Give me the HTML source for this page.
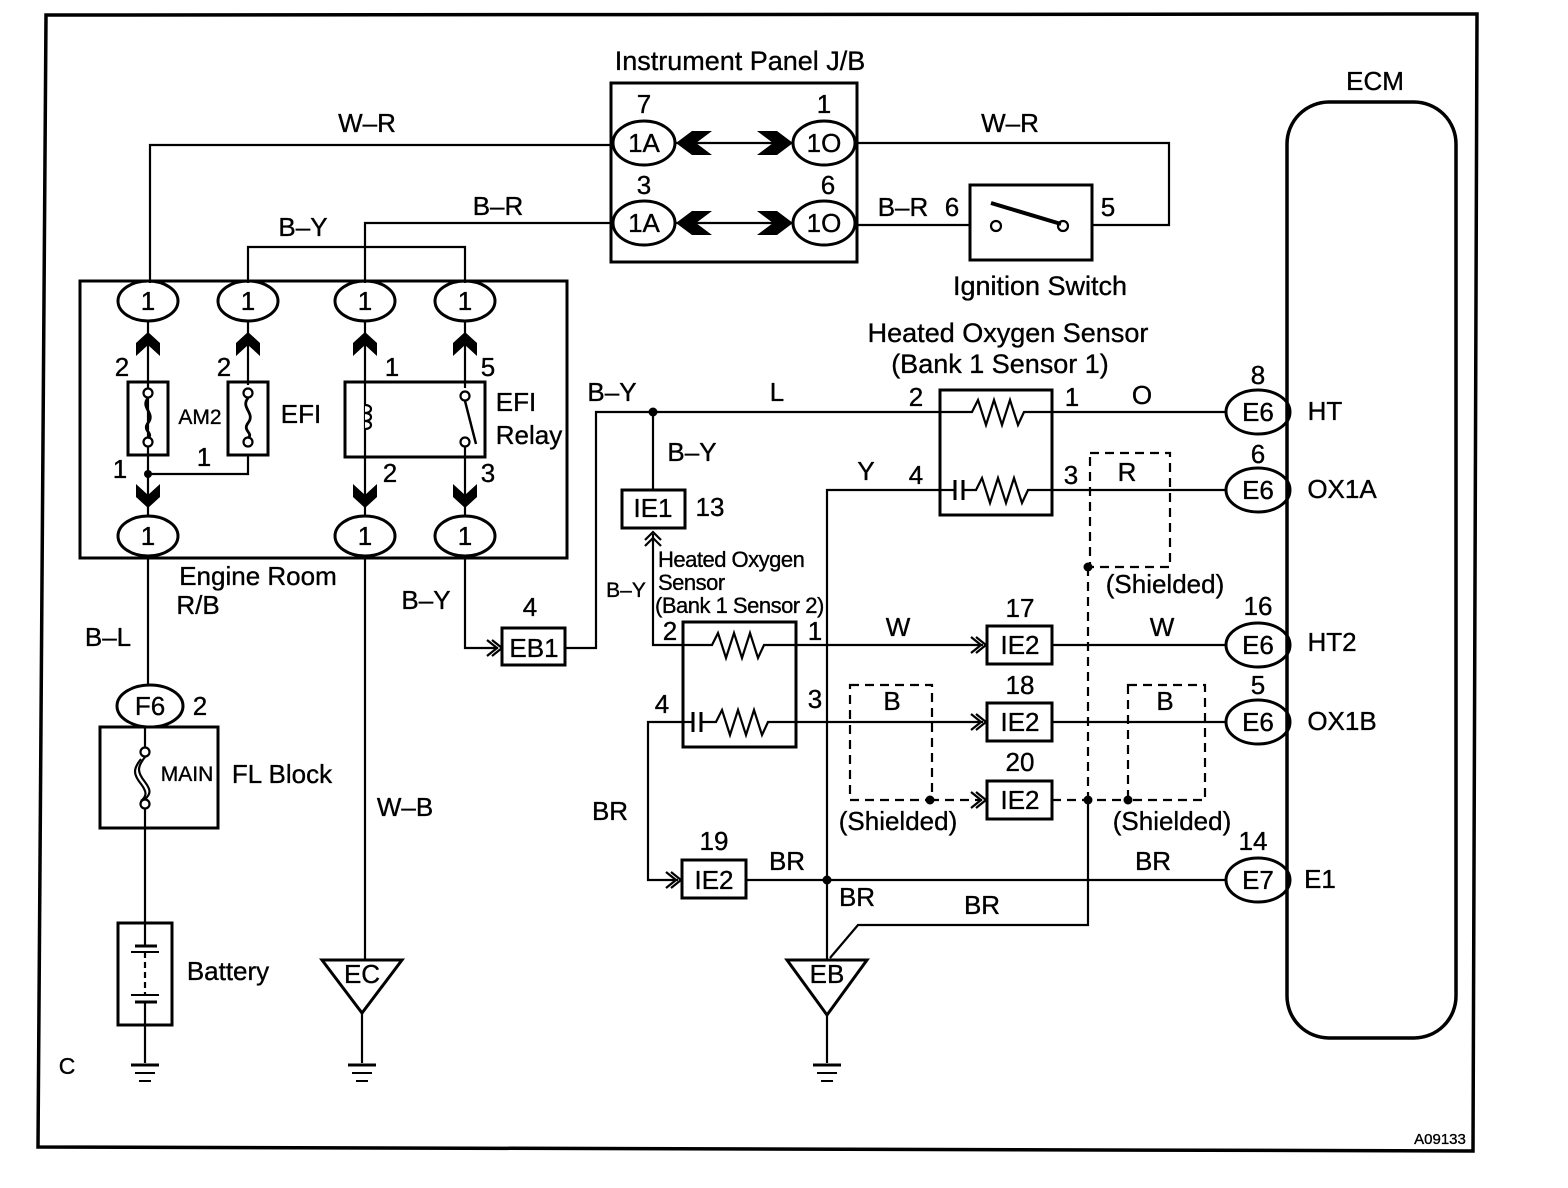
<!DOCTYPE html>
<html><head><meta charset="utf-8"><style>
html,body{margin:0;padding:0;background:#fff;}
svg{display:block;}
text{font-family:"Liberation Sans",Arial,sans-serif;fill:#000;stroke:#000;stroke-width:0.35;}
</style></head><body>
<svg width="1568" height="1188" viewBox="0 0 1568 1188" xmlns="http://www.w3.org/2000/svg">
<g fill="none" stroke="#000" stroke-width="2.2">
<polygon points="46,15 1477,14 1473,1151 38,1147" stroke-width="3.5"/>
<rect x="1287" y="102" width="169" height="936" rx="42" stroke-width="3.5"/>
<rect x="611" y="83" width="246" height="179" stroke-width="3"/>
<ellipse cx="644" cy="143" rx="31" ry="22" stroke-width="3"/>
<ellipse cx="824" cy="143" rx="31" ry="22" stroke-width="3"/>
<ellipse cx="644" cy="223" rx="31" ry="22" stroke-width="3"/>
<ellipse cx="824" cy="223" rx="31" ry="22" stroke-width="3"/>
<line x1="676" y1="143" x2="793" y2="143"/>
<line x1="676" y1="223" x2="793" y2="223"/>
<polyline points="150,283 150,145 613,145"/>
<polyline points="856,143 1169,143 1169,225 1092,225"/>
<polyline points="365,283 365,223 613,223"/>
<line x1="856" y1="225" x2="970" y2="225"/>
<rect x="970" y="185" width="122" height="75" stroke-width="3"/>
<circle cx="996" cy="226" r="5"/>
<circle cx="1063" cy="226" r="5"/>
<line x1="991" y1="203" x2="1061" y2="224" stroke-width="4"/>
<polyline points="248,283 248,247 465,247 465,283"/>
<rect x="80" y="281" width="487" height="277" stroke-width="3"/>
<ellipse cx="148" cy="301" rx="30" ry="20" stroke-width="3"/>
<ellipse cx="248" cy="301" rx="30" ry="20" stroke-width="3"/>
<ellipse cx="365" cy="301" rx="30" ry="20" stroke-width="3"/>
<ellipse cx="465" cy="301" rx="30" ry="20" stroke-width="3"/>
<ellipse cx="148" cy="536" rx="30" ry="20" stroke-width="3"/>
<ellipse cx="365" cy="536" rx="30" ry="20" stroke-width="3"/>
<ellipse cx="465" cy="536" rx="30" ry="20" stroke-width="3"/>
<line x1="148" y1="321" x2="148" y2="516"/>
<line x1="248" y1="321" x2="248" y2="385"/>
<line x1="365" y1="321" x2="365" y2="516"/>
<line x1="465" y1="321" x2="465" y2="388"/>
<line x1="465" y1="440" x2="465" y2="516"/>
<polyline points="148,474 248,474 248,455"/>
<rect x="128" y="382" width="40" height="73" stroke-width="3"/>
<rect x="228" y="382" width="40" height="73" stroke-width="3"/>
<rect x="345" y="382" width="140" height="75" stroke-width="3"/>
<circle cx="148" cy="393" r="4.5" fill="#fff"/><circle cx="148" cy="442" r="4.5" fill="#fff"/>
<circle cx="248" cy="393" r="4.5" fill="#fff"/><circle cx="248" cy="442" r="4.5" fill="#fff"/>
<path d="M148,398 c-8,10 8,15 0,25 c-6,8 6,10 0,15" stroke-width="2.8"/>
<path d="M248,398 c-8,10 8,15 0,25 c-6,8 6,10 0,15" stroke-width="2.8"/>
<path d="M365,405 c8,0 8,8 0,8 c8,0 8,8 0,8 c8,0 8,8 0,8" fill="#fff"/>
<circle cx="465" cy="396" r="4.5" fill="#fff"/><circle cx="465" cy="442" r="4.5" fill="#fff"/>
<line x1="465" y1="401" x2="476" y2="444" stroke-width="2.5"/>
<line x1="148" y1="556" x2="148" y2="685"/>
<ellipse cx="150" cy="706" rx="33" ry="21" stroke-width="3"/>
<rect x="100" y="727" width="118" height="101" stroke-width="3"/>
<line x1="145" y1="727" x2="145" y2="748"/>
<circle cx="145" cy="752" r="4.5"/><circle cx="145" cy="804" r="4.5"/>
<path d="M145,757 c-8,10 -8,15 0,25 c6,8 6,12 0,17"/>
<path d="M141,759 c-8,10 -8,15 0,25 c6,8 6,12 0,17"/>
<line x1="145" y1="809" x2="145" y2="923"/>
<rect x="118" y="923" width="54" height="102" stroke-width="3"/>
<line x1="145" y1="923" x2="145" y2="946"/>
<line x1="145" y1="1002" x2="145" y2="1063"/>
<line x1="145" y1="952" x2="145" y2="995" stroke-dasharray="6,4"/>
<line x1="365" y1="556" x2="365" y2="960"/>
<polygon points="322,960 402,960 362,1013" stroke-width="3"/>
<line x1="362" y1="1013" x2="362" y2="1063"/>
<line x1="827" y1="1015" x2="827" y2="1063"/>
<polyline points="465,556 465,648 498,648"/>
<polyline points="487,640 497,648 487,656"/>
<polyline points="492,640 502,648 492,656"/>
<rect x="502" y="628" width="63" height="37" stroke-width="3"/>
<polyline points="565,648 596,648 596,412 940,412"/>
<line x1="653" y1="412" x2="653" y2="490"/>
<rect x="622" y="490" width="63" height="38" stroke-width="3"/>
<polyline points="645,540 653,532 661,540"/>
<polyline points="645,546 653,538 661,546"/>
<polyline points="653,534 653,645 683,645"/>
<rect x="940" y="390" width="112" height="125" stroke-width="3"/>
<polyline points="940,412 972,412 978,400 986,425 994,400 1002,425 1010,400 1018,425 1024,412 1052,412"/>
<polyline points="940,490 955,490"/><line x1="955" y1="480" x2="955" y2="500" stroke-width="3"/><line x1="963" y1="480" x2="963" y2="500" stroke-width="3"/>
<polyline points="963,490 976,490 982,478 990,503 998,478 1006,503 1014,478 1022,503 1028,490 1052,490"/>
<line x1="1052" y1="412" x2="1225" y2="412"/>
<line x1="1052" y1="490" x2="1225" y2="490"/>
<polyline points="940,490 827,490 827,960"/>
<ellipse cx="1258" cy="412" rx="32" ry="22" stroke-width="3"/>
<ellipse cx="1258" cy="490" rx="32" ry="22" stroke-width="3"/>
<ellipse cx="1258" cy="645" rx="32" ry="22" stroke-width="3"/>
<ellipse cx="1258" cy="722" rx="32" ry="22" stroke-width="3"/>
<ellipse cx="1258" cy="880" rx="32" ry="22" stroke-width="3"/>
<g stroke-dasharray="9,6">
<rect x="1090" y="453" width="80" height="114"/>
<line x1="1088" y1="567" x2="1088" y2="800"/>
<rect x="850" y="685" width="82" height="115"/>
<rect x="1128" y="685" width="77" height="115"/>
<line x1="930" y1="800" x2="982" y2="800"/>
<line x1="1052" y1="800" x2="1128" y2="800"/>
</g>
<rect x="683" y="622" width="113" height="125" stroke-width="3"/>
<polyline points="683,645 712,645 718,633 726,658 734,633 742,658 750,633 758,658 764,645 796,645"/>
<polyline points="683,722 693,722"/><line x1="693" y1="712" x2="693" y2="732" stroke-width="3"/><line x1="701" y1="712" x2="701" y2="732" stroke-width="3"/>
<polyline points="701,722 716,722 722,710 730,735 738,710 746,735 754,710 762,735 768,722 796,722"/>
<line x1="796" y1="645" x2="983" y2="645"/>
<line x1="796" y1="722" x2="983" y2="722"/>
<polyline points="971,637 981,645 971,653"/><polyline points="976,637 986,645 976,653"/>
<polyline points="971,714 981,722 971,730"/><polyline points="976,714 986,722 976,730"/>
<polyline points="971,792 981,800 971,808"/><polyline points="976,792 986,800 976,808"/>
<rect x="987" y="626" width="65" height="38" stroke-width="3"/>
<rect x="987" y="703" width="65" height="38" stroke-width="3"/>
<rect x="987" y="781" width="65" height="38" stroke-width="3"/>
<line x1="1052" y1="645" x2="1225" y2="645"/>
<line x1="1052" y1="722" x2="1225" y2="722"/>
<polyline points="683,722 648,722 648,880 678,880"/>
<polyline points="666,872 676,880 666,888"/><polyline points="671,872 681,880 671,888"/>
<rect x="682" y="860" width="64" height="38" stroke-width="3"/>
<line x1="746" y1="880" x2="1225" y2="880"/>
<polyline points="1088,800 1088,925 858,925 830,958"/>
<polygon points="787,960 867,960 827,1015" stroke-width="3"/>
</g>
<g fill="#000">
<polygon points="148,332 160,343 160,356 148,345 136,356 136,343"/>
<polygon points="248,332 260,343 260,356 248,345 236,356 236,343"/>
<polygon points="365,332 377,343 377,356 365,345 353,356 353,343"/>
<polygon points="465,332 477,343 477,356 465,345 453,356 453,343"/>
<polygon points="148,508 160,497 160,484 148,495 136,484 136,497"/>
<polygon points="365,508 377,497 377,484 365,495 353,484 353,497"/>
<polygon points="465,508 477,497 477,484 465,495 453,484 453,497"/>
<polygon points="676,143 692,131 712,131 696,143 712,155 692,155"/>
<polygon points="676,223 692,211 712,211 696,223 712,235 692,235"/>
<polygon points="793,143 777,131 757,131 773,143 757,155 777,155"/>
<polygon points="793,223 777,211 757,211 773,223 757,235 777,235"/>
<circle cx="148" cy="474" r="4"/>
<circle cx="653" cy="412" r="4.5"/>
<circle cx="1088" cy="567" r="4.5"/>
<circle cx="930" cy="800" r="4.5"/>
<circle cx="1088" cy="800" r="4.5"/>
<circle cx="1128" cy="800" r="4.5"/>
<circle cx="827" cy="880" r="4.5"/>
</g>
<g stroke="#000">
<line x1="131" y1="1065" x2="159" y2="1065" stroke-width="3"/><line x1="135" y1="1073" x2="155" y2="1073" stroke-width="2"/><line x1="139" y1="1081" x2="151" y2="1081" stroke-width="2"/>
<line x1="348" y1="1065" x2="376" y2="1065" stroke-width="3"/><line x1="352" y1="1073" x2="372" y2="1073" stroke-width="2"/><line x1="356" y1="1081" x2="368" y2="1081" stroke-width="2"/>
<line x1="813" y1="1065" x2="841" y2="1065" stroke-width="3"/><line x1="817" y1="1073" x2="837" y2="1073" stroke-width="2"/><line x1="821" y1="1081" x2="833" y2="1081" stroke-width="2"/>
<line x1="135" y1="946" x2="157" y2="946" stroke-width="3"/><line x1="135" y1="1002" x2="157" y2="1002" stroke-width="3"/>
<line x1="131" y1="995" x2="159" y2="995" stroke-width="2"/><line x1="131" y1="952" x2="159" y2="952" stroke-width="2"/>
</g>
<g font-size="26" text-anchor="middle">
<text x="740" y="70" font-size="27">Instrument Panel J/B</text>
<text x="1375" y="90">ECM</text>
<text x="644" y="113">7</text><text x="824" y="113">1</text>
<text x="644" y="194">3</text><text x="828" y="194">6</text>
<text x="644" y="152">1A</text><text x="824" y="152">1O</text>
<text x="644" y="232">1A</text><text x="824" y="232">1O</text>
<text x="367" y="132">W–R</text><text x="1010" y="132">W–R</text>
<text x="498" y="215">B–R</text><text x="903" y="216">B–R</text><text x="952" y="216">6</text><text x="1108" y="216">5</text>
<text x="1040" y="295" font-size="27">Ignition Switch</text>
<text x="303" y="236">B–Y</text>
<text x="148" y="310">1</text><text x="248" y="310">1</text><text x="365" y="310">1</text><text x="465" y="310">1</text>
<text x="148" y="545">1</text><text x="365" y="545">1</text><text x="465" y="545">1</text>
<text x="122" y="376">2</text><text x="224" y="376">2</text><text x="392" y="376">1</text><text x="488" y="376">5</text>
<text x="120" y="478">1</text><text x="204" y="466">1</text><text x="390" y="482">2</text><text x="488" y="482">3</text>
<text x="200" y="424" font-size="21">AM2</text>
<text x="301" y="423">EFI</text>
<text x="516" y="411">EFI</text><text x="529" y="444">Relay</text>
<text x="258" y="585">Engine Room</text><text x="198" y="614">R/B</text>
<text x="108" y="646">B–L</text>
<text x="150" y="715">F6</text><text x="200" y="715">2</text>
<text x="187" y="781" font-size="21">MAIN</text>
<text x="282" y="783">FL Block</text>
<text x="228" y="980">Battery</text>
<text x="67" y="1074" font-size="23">C</text>
<text x="362" y="983">EC</text>
<text x="405" y="816">W–B</text>
<text x="426" y="609">B–Y</text>
<text x="530" y="616">4</text><text x="534" y="657">EB1</text>
<text x="612" y="401">B–Y</text><text x="777" y="401">L</text>
<text x="692" y="461">B–Y</text>
<text x="653" y="517">IE1</text><text x="710" y="516">13</text>
<text x="626" y="597" font-size="21">B–Y</text>
<text x="1008" y="342" font-size="27">Heated Oxygen Sensor</text>
<text x="1000" y="373" font-size="27">(Bank 1 Sensor 1)</text>
<text x="916" y="406">2</text><text x="1072" y="406">1</text><text x="916" y="484">4</text><text x="1071" y="484">3</text>
<text x="1142" y="404">O</text><text x="866" y="480">Y</text><text x="1127" y="481">R</text>
<text x="1258" y="384">8</text><text x="1258" y="463">6</text>
<text x="1258" y="421">E6</text><text x="1258" y="499">E6</text>
<text x="1325" y="420">HT</text><text x="1342" y="498">OX1A</text>
<text x="1165" y="593">(Shielded)</text>
<text x="670" y="640">2</text><text x="815" y="640">1</text><text x="662" y="713">4</text><text x="815" y="708">3</text>
<text x="898" y="636">W</text><text x="1162" y="636">W</text>
<text x="1020" y="617">17</text><text x="1020" y="694">18</text><text x="1020" y="771">20</text><text x="714" y="850">19</text>
<text x="1020" y="654">IE2</text><text x="1020" y="731">IE2</text><text x="1020" y="809">IE2</text><text x="714" y="889">IE2</text>
<text x="1258" y="615">16</text><text x="1258" y="694">5</text><text x="1253" y="850">14</text>
<text x="1258" y="654">E6</text><text x="1258" y="731">E6</text><text x="1258" y="889">E7</text>
<text x="1332" y="651">HT2</text><text x="1342" y="730">OX1B</text><text x="1320" y="888">E1</text>
<text x="892" y="710">B</text><text x="1165" y="710">B</text>
<text x="898" y="830">(Shielded)</text><text x="1172" y="830">(Shielded)</text>
<text x="610" y="820">BR</text><text x="787" y="870">BR</text><text x="857" y="906">BR</text><text x="982" y="914">BR</text><text x="1153" y="870">BR</text>
<text x="827" y="983">EB</text>
<text x="1440" y="1144" font-size="15">A09133</text>
</g>
<g font-size="22" text-anchor="start" letter-spacing="-0.5">
<text x="658" y="567">Heated Oxygen</text>
<text x="658" y="590">Sensor</text>
<text x="655" y="613">(Bank 1 Sensor 2)</text>
</g>
</svg>
</body></html>
